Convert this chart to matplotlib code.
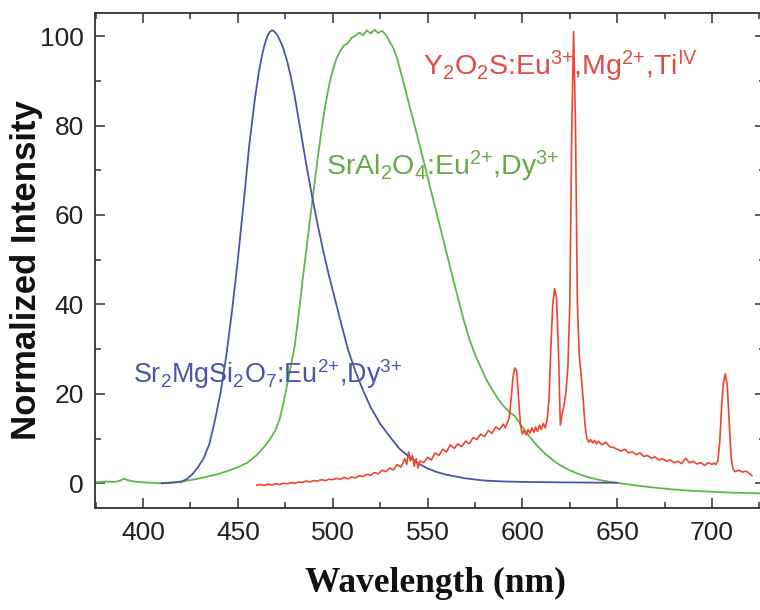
import matplotlib
matplotlib.use("Agg")
import matplotlib.pyplot as plt
from matplotlib.ticker import MultipleLocator

plt.rcParams['font.family'] = ['Liberation Sans', 'DejaVu Sans']
plt.rcParams['mathtext.fontset'] = 'custom'
plt.rcParams['mathtext.rm'] = 'Liberation Sans'
plt.rcParams['mathtext.it'] = 'Liberation Sans:italic'
plt.rcParams['mathtext.bf'] = 'Liberation Sans:bold'

# ---------------- data ----------------
blue_wl = [410, 415, 420, 423, 426, 429, 432, 435, 438, 441, 444, 447, 450, 453, 456,
           459, 461, 463, 464, 465, 466, 467, 468, 469, 470, 471, 472, 473, 474, 476,
           478, 480, 483, 486, 489, 492, 495, 498, 501,
           504, 508, 512, 516, 520, 525, 530, 535, 540, 545, 550, 555, 560, 570, 580,
           590, 600, 620, 650]
blue_val = [0.0, 0.1, 0.3, 0.9, 2.0, 3.6, 5.6, 8.8, 14.2, 20.5, 28.8, 38.8, 50.0, 62.5, 75.5,
            86.0, 91.8, 96.2, 97.9, 99.3, 100.4, 101.0, 101.3, 101.1, 100.7, 100.1, 99.2, 98.3, 97.2, 94.4,
            90.8, 86.5, 79.0, 71.5, 64.5, 58.0, 52.0, 46.5, 41.5,
            36.5, 30.0, 25.0, 20.8, 17.0, 13.3, 10.5, 7.8, 6.0, 4.5, 3.3, 2.5, 1.9, 1.1, 0.6,
            0.4, 0.3, 0.2, 0.1]

green_wl = [375, 380, 385, 388, 390, 392, 395, 400, 405, 410, 415, 420, 425, 430, 435,
            440, 445, 450, 455, 460, 464, 467, 470, 472, 474, 476, 478, 480, 482, 484,
            486, 488, 490, 492, 494, 496, 498, 500, 502, 504, 506, 508, 510, 512, 514,
            516, 518, 520, 522, 524, 526, 528, 530, 532, 534, 536, 538, 540, 542, 545,
            548, 551, 554, 557, 560, 563, 566, 569, 572, 575, 578, 581, 584, 587, 590,
            593, 596, 600, 604, 608, 612, 616, 620, 625, 630, 635, 640, 645, 650, 660,
            670, 680, 690, 700, 710, 720, 728]
green_val = [0.2, 0.4, 0.3, 0.6, 1.0, 0.7, 0.4, 0.2, 0.1, 0.0, 0.2, 0.4, 0.7, 1.1, 1.6,
             2.1, 2.8, 3.6, 4.6, 6.3, 8.2, 9.9, 12.0, 14.3, 17.8, 22.0, 26.3, 30.8, 37.5, 45.0,
             51.8, 58.9, 65.6, 72.4, 78.6, 84.2, 88.8, 92.3, 95.0, 96.7, 97.9, 98.4, 99.6, 100.1, 100.8,
             100.2, 101.3, 100.6, 101.4, 100.7, 101.2, 100.3, 98.8, 97.3, 95.0, 91.8, 88.5, 85.2, 82.0, 77.0,
             72.0, 66.8, 61.8, 56.7, 51.6, 46.5, 41.5, 36.6, 32.3, 28.8, 26.0, 23.2, 21.0, 19.0, 17.3,
             16.0, 15.0, 12.6, 10.3, 8.3, 6.6, 5.2, 4.0, 2.9, 2.0, 1.3, 0.8, 0.4, 0.1, -0.5,
             -1.0, -1.4, -1.7, -1.9, -2.1, -2.2, -2.3]

red_wl = [460, 462, 464, 466, 468, 470, 472, 474, 476, 478, 480, 482, 484, 486, 488,
          490, 492, 494, 496, 498, 500, 502, 504, 506, 508, 510, 512, 514, 516, 518,
          520, 522, 524, 526, 528, 530, 532, 534, 536, 538, 539, 540, 541, 542, 543,
          544, 545, 546, 548, 550, 552, 554, 556, 558, 560, 562, 564, 566, 568, 570,
          572, 574, 576, 578, 580, 582, 584, 586, 588, 590, 591, 592, 593, 594, 595,
          596, 597, 598, 599, 600, 601, 602, 603, 604, 605, 606, 607, 608, 609, 610,
          611, 612, 613, 614, 615, 616, 617, 618, 619, 620, 621, 622, 623, 624, 625,
          626, 627, 628, 629, 630, 631, 632, 633, 634, 635, 636, 637, 638, 639, 640,
          642, 644, 646, 648, 650, 652, 654, 656, 658, 660, 662, 664, 666, 668, 670,
          672, 674, 676, 678, 680, 682, 684, 686, 688, 690, 692, 694, 696, 698, 700,
          701, 702, 703, 704, 705, 706, 707, 708, 709, 710, 711, 712, 714, 716, 718,
          720, 721]
red_val = [-0.4, -0.3, -0.5, -0.2, -0.4, -0.1, -0.3, 0.0, -0.1, 0.1, 0.0, 0.3, 0.2, 0.5, 0.3,
           0.6, 0.5, 0.8, 0.6, 0.9, 0.8, 1.1, 0.9, 1.3, 1.0, 1.4, 1.2, 1.7, 1.5, 2.0,
           1.8, 2.4, 2.1, 2.9, 2.6, 3.4, 3.0, 4.2, 3.6, 5.5, 4.2, 7.0, 5.0, 6.2, 3.8,
           5.5, 3.4, 5.0, 4.6, 5.8, 5.2, 6.8, 6.2, 7.6, 7.0, 8.6, 7.8, 8.8, 8.2, 9.4,
           8.8, 10.2, 9.8, 11.0, 10.4, 11.8, 11.2, 12.6, 12.0, 13.2, 12.4, 13.5, 14.5, 18.5, 23.5,
           25.8, 25.0, 19.0, 13.0, 11.0, 11.8, 10.8, 12.0, 11.2, 12.4, 11.4, 12.6, 11.6, 13.0, 12.0,
           13.4, 12.4, 14.0, 18.5, 30.0, 40.0, 43.5, 41.5, 30.0, 13.0, 15.5, 17.5, 20.5, 26.0, 40.0,
           78.0, 101.0, 80.0, 40.0, 28.5, 24.0, 19.0, 13.0, 10.0, 9.2, 9.8, 9.0, 9.6, 8.8, 9.4,
           8.6, 9.2, 8.2, 8.0, 7.6, 7.2, 7.6, 6.8, 7.0, 6.4, 6.8, 6.0, 6.2, 5.6, 5.9,
           5.2, 5.5, 4.9, 5.2, 4.6, 4.9, 4.4, 5.6, 4.6, 4.9, 4.3, 4.6, 4.0, 4.6, 4.2,
           4.5, 4.2, 5.0, 9.0, 17.0, 22.5, 24.5, 22.0, 14.0, 6.0, 3.2, 2.6, 2.9, 2.5, 2.7,
           2.1, 1.7]

x_ticks = [400, 450, 500, 550, 600, 650, 700]
y_ticks = [0, 20, 40, 60, 80, 100]

label_blue = r'Sr$_2$MgSi$_2$O$_7$:Eu$^{2{+}}$,Dy$^{3{+}}$'
label_green = r'SrAl$_2$O$_4$:Eu$^{2{+}}$,Dy$^{3{+}}$'
label_red = r'Y$_2$O$_2$S:Eu$^{3{+}}$,Mg$^{2{+}}$,Ti$^{\mathrm{IV}}$'

c_blue = '#4b55aa'
c_green = '#5db84a'
c_red = '#ee4530'

# ---------------- figure ----------------
fig = plt.figure(figsize=(7.6, 6.1), dpi=100)
ax = fig.add_axes([95/760, 1 - 508.3/610, (765 - 95)/760, (508.3 - 13.3)/610])

ax.plot(green_wl, green_val, color=c_green, lw=1.3)
ax.plot(blue_wl, blue_val, color=c_blue, lw=1.3)
ax.plot(red_wl, red_val, color=c_red, lw=1.2)

ax.set_xlim(374.7, 727.9)
ax.set_ylim(-5.6, 105.1)
ax.set_xticks(x_ticks)
ax.set_yticks(y_ticks)
ax.xaxis.set_minor_locator(MultipleLocator(25))
ax.yaxis.set_minor_locator(MultipleLocator(10))
ax.tick_params(which='both', direction='in', top=True, right=True,
               colors='#333333', width=1.1, labelsize=19, labelcolor='#222222')
ax.tick_params(which='major', length=7.5)
ax.tick_params(which='minor', length=4.5)
ax.tick_params(axis='x', pad=9)
ax.tick_params(axis='y', pad=8)
for s in ax.spines.values():
    s.set_color('#333333')
    s.set_linewidth(1.3)

ax.text(394.7, 22.4, label_blue, color=c_blue, fontsize=19.4, ha='left', va='baseline')
ax.text(496.3, 68.9, label_green, color='#66aa4a', fontsize=20.5, ha='left', va='baseline')
ax.text(547.4, 91.3, label_red, color='#e24a45', fontsize=20.5, ha='left', va='baseline')

fig.text(27/760, 1 - 270/610, 'Normalized Intensity', rotation=90, ha='center', va='center',
         fontsize=25, fontweight='bold', color='#111111')
fig.text(435/760, 1 - 583/610, 'Wavelength (nm)', ha='center', va='center',
         fontsize=25.5, fontweight='bold', family=['Liberation Serif', 'DejaVu Serif'],
         color='#111111')

fig.savefig('out.png', dpi=100)
